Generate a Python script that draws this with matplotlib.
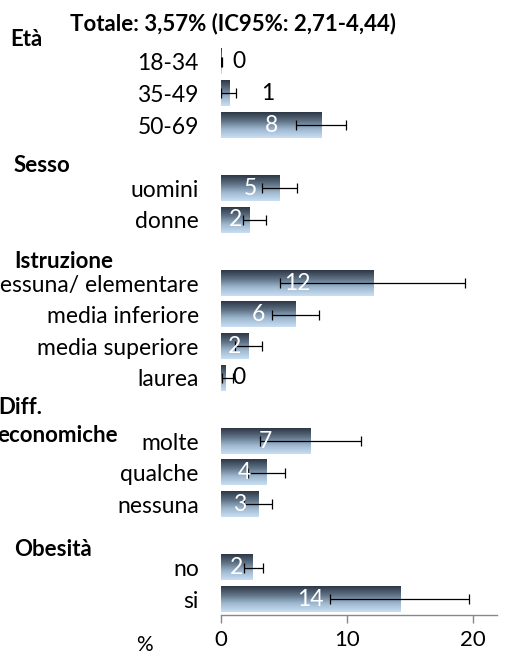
"""Prevalenza per sottogruppi: barre orizzontali con IC95%, stile Excel con gradiente."""

import matplotlib.pyplot as plt
import numpy as np
from matplotlib.colors import LinearSegmentedColormap

plt.rcParams["font.family"] = ["Lato", "DejaVu Sans"]

# values (%, with 95% CI)
CATEGORIES = [
    "18-34", "35-49", "50-69",
    "uomini", "donne",
    "nessuna/ elementare", "media inferiore", "media superiore", "laurea",
    "molte", "qualche", "nessuna",
    "no", "si",
]
GROUP_SIZES = [3, 2, 4, 3, 2]
VALUES = [0.05, 0.64, 8.0, 4.65, 2.28, 12.1, 5.93, 2.2, 0.37, 7.1, 3.63, 2.99, 2.5, 14.25]
CI_LOW = [0.0, 0.0, 5.95, 3.27, 1.77, 4.68, 4.05, 1.14, 0.05, 3.07, 2.17, 1.86, 1.79, 8.68]
CI_HIGH = [0.1, 1.17, 9.9, 6.0, 3.57, 19.4, 7.8, 3.25, 0.98, 11.1, 5.08, 4.07, 3.3, 19.7]
LABELS = [0, 1, 8, 5, 2, 12, 6, 2, 0, 7, 4, 3, 2, 14]
TITLE = "Totale: 3,57% (IC95%: 2,71-4,44)"

W, H = 506, 651
cmap = LinearSegmentedColormap.from_list(
    "excel", ["#2e3846", "#5d7084", "#9fb8cf", "#c8def3"]
)


def fx(px):
    return px / W


def fy(py):
    return 1 - py / H


def main():
    fig = plt.figure(figsize=(W / 100, H / 100), dpi=100)
    ax = fig.add_axes([fx(221), fy(615), fx(497 - 221), (615 - 46) / H])

    # y positions: one blank slot between groups
    ypos = []
    slot = 0
    for size in GROUP_SIZES:
        ypos.extend(range(slot, slot + size))
        slot += size + 1
    ypos = np.array(ypos)

    values = np.array(VALUES)
    h = 0.8
    grad = np.linspace(0, 1, 64).reshape(-1, 1)
    for y, v in zip(ypos, values):
        ax.imshow(grad, cmap=cmap, aspect="auto", origin="upper",
                  extent=[0, v, y + h / 2, y - h / 2], zorder=2)

    err = [values - np.array(CI_LOW), np.array(CI_HIGH) - values]
    ax.errorbar(values, ypos, xerr=err, fmt="none", ecolor="black",
                elinewidth=0.9, capsize=3.5, capthick=0.9, zorder=3)

    for y, v, lab in zip(ypos, values, LABELS):
        if v >= 1.5:
            ax.text(v / 2, y, str(lab), ha="center", va="center",
                    color="white", fontsize=16.5, zorder=4)
        else:
            xt = 3.7 if lab == 1 else 1.45
            ax.text(xt, y, str(lab), ha="center", va="center",
                    color="black", fontsize=16.5, zorder=4)

    ax.set_xlim(0, 21.9)
    ax.set_ylim(slot - 1 - 0.5, -0.5)
    ax.set_yticks(ypos)
    ax.set_yticklabels(CATEGORIES, fontsize=16.5)
    ax.tick_params(axis="y", length=0, pad=16)
    ax.set_xticks([0, 10, 20])
    ax.tick_params(axis="x", length=6, width=1, color="#888888", labelsize=16, pad=5)
    for side in ("top", "right", "left"):
        ax.spines[side].set_visible(False)
    ax.spines["bottom"].set_color("#888888")
    ax.spines["bottom"].set_linewidth(1)

    hdr = dict(fontweight="bold", va="center")
    fig.text(fx(70), fy(24), TITLE, ha="left", fontsize=16, **hdr)
    for label, x, y, ha in [
        ("Età", 10, 39, "left"),
        ("Sesso", 14, 165, "left"),
        ("Istruzione", 14, 262, "left"),
        ("Diff.", -2, 407, "left"),
        ("economiche", 118, 435, "right"),
        ("Obesità", 14, 549, "left"),
    ]:
        fig.text(fx(x), fy(y), label, ha=ha, fontsize=16, **hdr)
    fig.text(fx(144), fy(645), "%", ha="center", va="center", fontsize=15)

    fig.savefig("out.png", dpi=100)


if __name__ == "__main__":
    main()
